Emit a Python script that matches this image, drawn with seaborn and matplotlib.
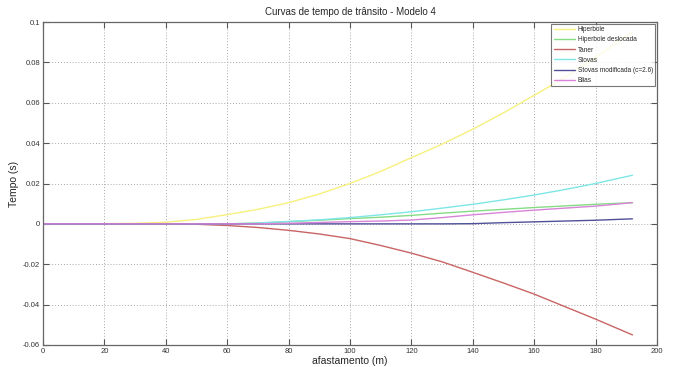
import numpy as np
import pandas as pd
import matplotlib
matplotlib.use("Agg")
import matplotlib.pyplot as plt
import seaborn as sns
from matplotlib.ticker import FuncFormatter, MultipleLocator

# Data
offset = [0, 10, 20, 30, 40, 50, 60, 70, 80, 90, 100, 110, 120, 130, 140, 150, 160, 170, 180, 192]
hiperbole = [0, 0, 0.0001, 0.0003, 0.0008, 0.0022, 0.0046, 0.0072, 0.0105, 0.0148, 0.0200,
             0.0260, 0.0328, 0.0395, 0.0469, 0.0550, 0.0637, 0.0725, 0.0825, 0.0950]
hiperbole_desl = [0, 0, 0, 0, 0, 0, 0, 0.0004, 0.0011, 0.0018, 0.0026,
                  0.0033, 0.0042, 0.0053, 0.0063, 0.0072, 0.0081, 0.0089, 0.0097, 0.0105]
taner = [0, 0, 0, 0, 0, -0.0002, -0.0008, -0.0018, -0.0032, -0.0050, -0.0073,
         -0.0107, -0.0145, -0.0188, -0.0240, -0.0293, -0.0348, -0.0410, -0.0472, -0.0550]
stovas = [0, 0, 0, 0, 0, 0, 0, 0.0004, 0.0012, 0.0020, 0.0031,
          0.0045, 0.0060, 0.0078, 0.0097, 0.0119, 0.0143, 0.0170, 0.0200, 0.0241]
stovas_mod = [0, 0, 0, 0, 0, 0, 0, 0, 0, 0, 0,
              0, 0, 0, 0.0001, 0.0006, 0.0010, 0.0014, 0.0018, 0.0025]
blias = [0, 0, 0, 0, 0, 0, 0, 0, 0.0003, 0.0007, 0.0011,
         0.0014, 0.0019, 0.0031, 0.0045, 0.0057, 0.0068, 0.0078, 0.0088, 0.0105]

series_names = ["Hiperbole", "Hiperbole deslocada", "Taner", "Stovas",
                "Stovas modificada (c=2.6)", "Blias"]
series_values = [hiperbole, hiperbole_desl, taner, stovas, stovas_mod, blias]
colors = ["#f6f07c", "#86dc86", "#c86464", "#7ee6e6", "#50509a", "#d884d8"]

df = pd.concat([pd.DataFrame({"afastamento": offset, "tempo": v, "curva": n})
                for n, v in zip(series_names, series_values)], ignore_index=True)

sns.set_style("white")
plt.rcParams["font.family"] = ["Liberation Sans", "DejaVu Sans"]
plt.rcParams["axes.unicode_minus"] = False

fig = plt.figure(figsize=(6.74, 3.67), dpi=100)
ax = fig.add_axes([0.0638, 0.060, 0.911, 0.880])

sns.lineplot(data=df, x="afastamento", y="tempo", hue="curva", hue_order=series_names,
             palette=dict(zip(series_names, colors)), linewidth=1.0, ax=ax, legend=True)

ax.set_xlim(0, 200)
ax.set_ylim(-0.06, 0.1)
ax.xaxis.set_major_locator(MultipleLocator(20))
ax.yaxis.set_major_locator(MultipleLocator(0.02))
ax.yaxis.set_major_formatter(FuncFormatter(lambda v, p: "%g" % round(v, 4)))
ax.grid(True, linestyle=(0, (1, 2)), color="#a8a8a8", linewidth=0.7)
ax.tick_params(direction="in", length=4, width=0.8, color="#555555", labelsize=5.5,
               labelcolor="#333333", top=True, right=True, bottom=True, left=True, pad=2)
for s in ax.spines.values():
    s.set_color("#666666")
    s.set_linewidth(0.9)
    s.set_visible(True)

ax.set_title("Curvas de tempo de trânsito - Modelo 4", fontsize=7, pad=5)
ax.set_xlabel("afastamento (m)", fontsize=7.5, labelpad=1)
ax.set_ylabel("Tempo (s)", fontsize=7.5, labelpad=3)

leg = ax.legend(loc="upper right", bbox_to_anchor=(1.0, 1.0), fontsize=4.7, frameon=True,
                fancybox=False, edgecolor="#555555", borderaxespad=0.3, handlelength=3.3,
                labelspacing=0.48, borderpad=0.35, handletextpad=0.35)
leg.get_frame().set_linewidth(0.8)

fig.savefig("out.png", dpi=100)
